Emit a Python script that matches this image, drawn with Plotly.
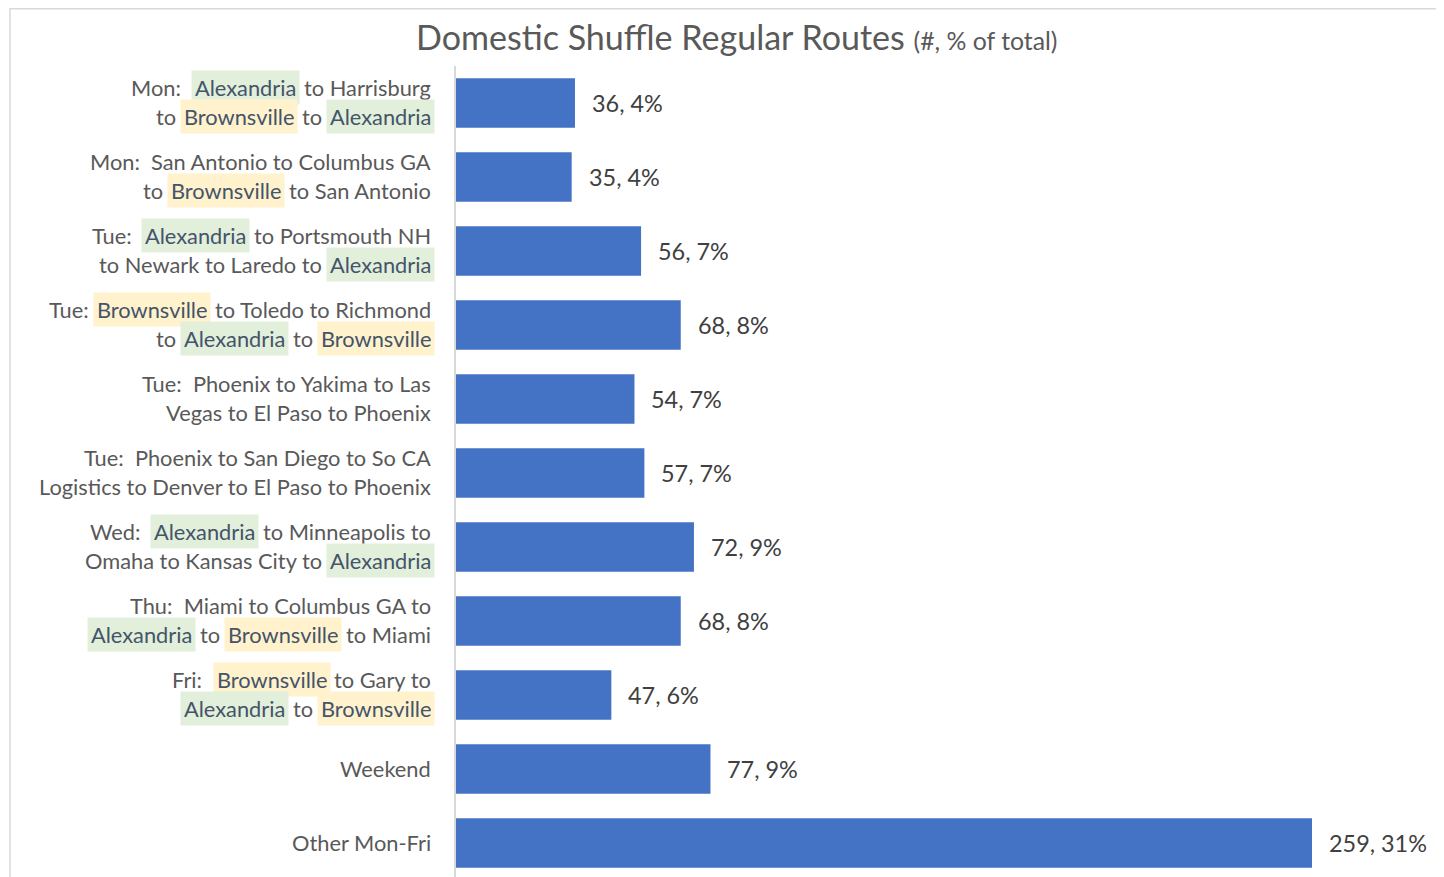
import subprocess
import plotly.graph_objects as go

# ---------------- data ----------------
categories = ["Mon A", "Mon SA", "Tue A", "Tue B", "Tue P1", "Tue P2",
              "Wed A", "Thu M", "Fri B", "Weekend", "Other Mon-Fri"]
route_counts = [36, 35, 56, 68, 54, 57, 72, 68, 47, 77, 259]
value_labels = ["36, 4%", "35, 4%", "56, 7%", "68, 8%", "54, 7%", "57, 7%",
                "72, 9%", "68, 8%", "47, 6%", "77, 9%", "259, 31%"]
# label lines: list of lines, each line = list of (text, highlight) ; highlight: None / "A" (green) / "B" (yellow)
label_lines = [
    [[("Mon:\u00a0", None), ("Alexandria", "A"), ("to Harrisburg", None)],
     [("to", None), ("Brownsville", "B"), ("to", None), ("Alexandria", "A")]],
    [[("Mon:\u00a0 San Antonio to Columbus GA", None)],
     [("to", None), ("Brownsville", "B"), ("to San Antonio", None)]],
    [[("Tue:\u00a0", None), ("Alexandria", "A"), ("to Portsmouth NH", None)],
     [("to Newark to Laredo to", None), ("Alexandria", "A")]],
    [[("Tue:", None), ("Brownsville", "B"), ("to Toledo to Richmond", None)],
     [("to", None), ("Alexandria", "A"), ("to", None), ("Brownsville", "B")]],
    [[("Tue:\u00a0 Phoenix to Yakima to Las", None)],
     [("Vegas to El Paso to Phoenix", None)]],
    [[("Tue:\u00a0 Phoenix to San Diego to So CA", None)],
     [("Logistics to Denver to El Paso to Phoenix", None)]],
    [[("Wed:\u00a0", None), ("Alexandria", "A"), ("to Minneapolis to", None)],
     [("Omaha to Kansas City to", None), ("Alexandria", "A")]],
    [[("Thu:\u00a0 Miami to Columbus GA to", None)],
     [("Alexandria", "A"), ("to", None), ("Brownsville", "B"), ("to Miami", None)]],
    [[("Fri:\u00a0", None), ("Brownsville", "B"), ("to Gary to", None)],
     [("Alexandria", "A"), ("to", None), ("Brownsville", "B")]],
    [[("Weekend", None)]],
    [[("Other Mon-Fri", None)]],
]
title_main = "Domestic Shuffle Regular Routes"
title_sub = "(#, % of total)"

# ---------------- style ----------------
FONT = "Lato"
BAR_COLOR = "#4472C4"
TEXT_GREY = "#595959"
HL_TEXT = "#44546A"
HL_BG = {"A": "#E2EFDA", "B": "#FFF2CC"}
VALUE_GREY = "#404040"

OFF = 8  # page body margin
W, H = 1444 - OFF, 877 - OFF
ML, MT = 456 - OFF, 66 - OFF
PX_PER_ROW = 74.0

# ---------------- text measurement ----------------
_measure = None
try:
    path = subprocess.run(["fc-match", "-f", "%{file}", FONT + ":style=Regular"],
                          capture_output=True, text=True, timeout=10).stdout.strip()
    try:
        from PIL import ImageFont
        _pf = ImageFont.truetype(path, 200)
        _measure = lambda s: _pf.getlength(s) / 200.0
    except Exception:
        from fontTools.ttLib import TTFont
        _tt = TTFont(path)
        _cmap = _tt.getBestCmap()
        _hm = _tt["hmtx"]
        _upm = _tt["head"].unitsPerEm
        def _measure(s):
            tot = 0
            for ch in s:
                g = _cmap.get(ord(ch))
                tot += _hm[g][0] if g in _hm.metrics else _upm * 0.5
            return tot / _upm
except Exception:
    _measure = None
if _measure is None:
    _measure = lambda s: 0.5 * len(s)


def em(s):
    return _measure(s)


def clamp(v, lo, hi):
    return max(lo, min(hi, v))


LABEL_SIZE = clamp(392.0 / em("Logistics to Denver to El Paso to Phoenix"), 17, 26)
TITLE_SIZE = clamp(489.0 / em(title_main), 28, 40)
SUB_SIZE = clamp(144.0 / em(title_sub), 18, 30)
VALUE_SIZE = clamp(98.0 / em("259, 31%"), 17, 26)

x_max = (W - ML) / ((1312 - 456) / 259.0)
n = len(categories)
plot_h = H - MT
y_bottom = -0.5 + plot_h / PX_PER_ROW

fig = go.Figure()
fig.add_trace(go.Bar(
    x=route_counts, y=list(range(n)), orientation="h",
    marker=dict(color=BAR_COLOR, line=dict(width=0)),
    width=0.667, hoverinfo="skip", showlegend=False,
))

annotations = []
# value labels
for i, (v, t) in enumerate(zip(route_counts, value_labels)):
    annotations.append(dict(x=v, y=i, xref="x", yref="y", text=t, showarrow=False,
                            xanchor="left", yanchor="middle", xshift=15,
                            font=dict(family=FONT, size=VALUE_SIZE, color=VALUE_GREY)))

# category labels with highlighted words
GAP_RIGHT = 24
PAD = 3
space_w = em(" ") * LABEL_SIZE
LINE_STEP = 29.0
for i, lines in enumerate(label_lines):
    nl = len(lines)
    for li, segs in enumerate(lines):
        yshift = ((nl - 1) / 2.0 - li) * LINE_STEP + 1
        cursor = 0.0
        for k in range(len(segs) - 1, -1, -1):
            text, hl = segs[k]
            tw = em(text) * LABEL_SIZE
            if hl:
                ann = dict(bgcolor=HL_BG[hl], borderpad=PAD,
                           font=dict(family=FONT, size=LABEL_SIZE, color=HL_TEXT))
                xs = -(GAP_RIGHT + cursor) + PAD
            else:
                ann = dict(borderpad=0,
                           font=dict(family=FONT, size=LABEL_SIZE, color=TEXT_GREY))
                xs = -(GAP_RIGHT + cursor)
            ann.update(x=0, y=i, xref="paper", yref="y", text=text, showarrow=False,
                       xanchor="right", yanchor="middle", xshift=xs, yshift=yshift)
            annotations.append(ann)
            cursor += tw + space_w + 2

# title (positions in paper coords of the plot area)
annotations.append(dict(
    x=(736 - OFF - ML) / (W - ML), y=(H - (37.0 - OFF)) / plot_h,
    xref="paper", yref="paper",
    text=title_main + " <span style='font-size:%.1fpx'>%s</span>" % (SUB_SIZE, title_sub),
    showarrow=False, xanchor="center", yanchor="middle",
    font=dict(family=FONT, size=TITLE_SIZE, color=TEXT_GREY)))

shapes = [dict(type="rect", xref="paper", yref="paper",
               x0=(10 - OFF - ML) / (W - ML), x1=1.05,
               y0=-0.05, y1=(H - (8.0 - OFF) - 0.75) / plot_h,
               line=dict(color="#D9D9D9", width=1.5), fillcolor="rgba(0,0,0,0)", layer="below")]

fig.update_layout(
    width=W, height=H,
    margin=dict(l=ML, r=0, t=MT, b=0, pad=0),
    paper_bgcolor="white", plot_bgcolor="white",
    xaxis=dict(range=[0, x_max], visible=False, fixedrange=True),
    yaxis=dict(range=[y_bottom, -0.5], showticklabels=False, ticks="",
               showgrid=False, zeroline=False, showline=True,
               linecolor="#D9D9D9", linewidth=1.5, fixedrange=True),
    annotations=annotations, shapes=shapes,
    bargap=0.33,
)

fig.write_html("out.html")
